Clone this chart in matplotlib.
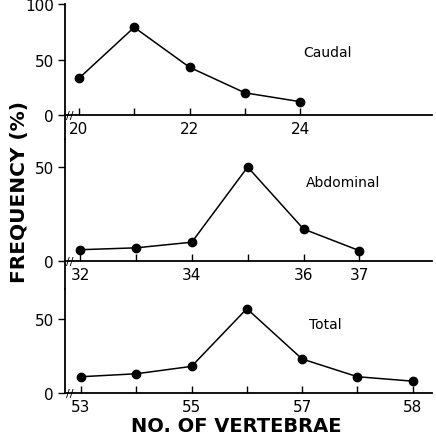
import matplotlib
matplotlib.use("Agg")
import matplotlib.pyplot as plt
from matplotlib.transforms import blended_transform_factory

# ========== DATA ==========
caudal_x = [20, 21, 22, 23, 24]
caudal_y = [33, 79, 43, 20, 12]
caudal_ticklabels = ["20", "", "22", "", "24"]

abd_x = [32, 33, 34, 35, 36, 37]
abd_y = [6, 7, 10, 50, 17, 5.5]
abd_ticklabels = ["32", "", "34", "", "36", "37"]

total_x = [53, 54, 55, 56, 57, 58, 59]
total_y = [11, 13, 18, 57, 23, 11, 8]
total_ticklabels = ["53", "", "55", "", "57", "", "58"]
# ==========================

W, H = 436, 439
fig = plt.figure(figsize=(W / 100, H / 100), dpi=100)
plt.rcParams["font.family"] = "DejaVu Sans"

left = 65 / W
width = (432 - 65) / W

panels = [
    # (top px, bottom px, ylim, xlim, x, y, ticklabels, yticks, name, name pos)
    (5, 140, (-21.6, 100), (19.75, 26.38), caudal_x, caudal_y, caudal_ticklabels,
     [0, 50, 100], "Caudal", (327, 53)),
    (140, 290, (-14.9, 64.9), (31.73, 38.3), abd_x, abd_y, abd_ticklabels,
     [0, 50], "Abdominal", (343, 183)),
    (290, 394, (0, 70.3), (52.71, 59.35), total_x, total_y, total_ticklabels,
     [0, 50], "Total", (325, 325)),
]

for top, bot, ylim, xlim, xs, ys, tlabels, yticks, name, npos in panels:
    ax = fig.add_axes([left, 1 - bot / H, width, (bot - top) / H])
    ax.plot(xs, ys, color="black", lw=1.1, marker="o", markersize=6, clip_on=False)
    ax.set_xlim(*xlim)
    ax.set_ylim(*ylim)
    ax.patch.set_visible(False)
    for s in ["top", "right"]:
        ax.spines[s].set_visible(False)
    ax.spines["bottom"].set_position(("data", 0))
    ax.spines["left"].set_linewidth(1.3)
    ax.spines["bottom"].set_linewidth(1.3)
    ax.set_xticks(xs)
    ax.set_xticklabels(tlabels)
    ax.set_yticks(yticks)
    ax.tick_params(axis="x", direction="in", length=5, width=1, labelsize=11, pad=4)
    ax.tick_params(axis="y", direction="out", length=5, width=1, labelsize=11, pad=3)
    for lab in ax.get_xticklabels() + ax.get_yticklabels():
        lab.set_fontweight("medium")
    trans = blended_transform_factory(ax.transAxes, ax.transData)
    ax.text(0.012, 0, "//", transform=trans, fontsize=8, ha="center", va="center",
            color="black")
    fig.text(npos[0] / W, 1 - npos[1] / H, name, fontsize=10, ha="center", va="center")

fig.text(20 / W, 1 - 192 / H, "FREQUENCY (%)", rotation=90, fontsize=14.5,
         fontweight="bold", ha="center", va="center")
fig.text(236 / W, 1 - 427 / H, "NO. OF VERTEBRAE", fontsize=14,
         fontweight="bold", ha="center", va="center")

fig.savefig("out.png", dpi=100)
